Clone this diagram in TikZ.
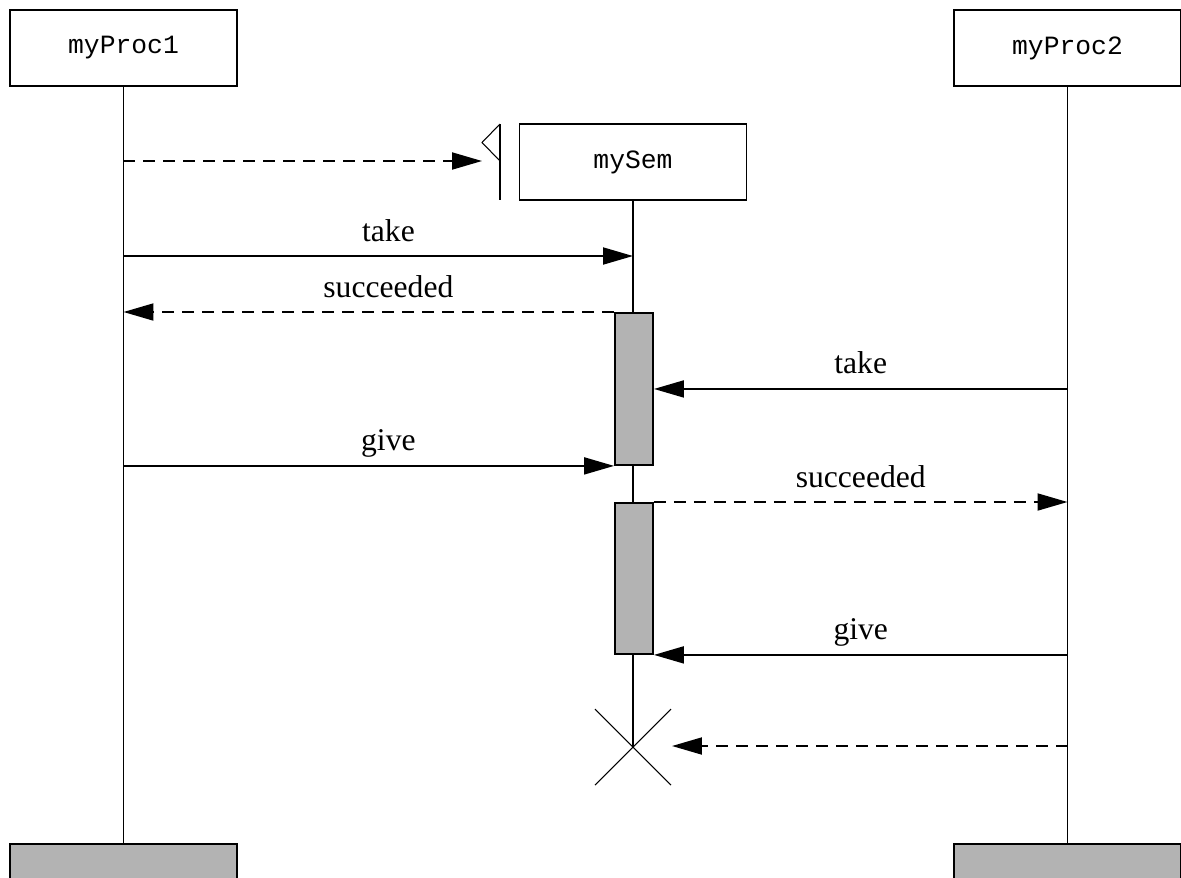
\documentclass[tikz,border=0pt]{standalone}
\usepackage{fontspec}
\setmainfont{Liberation Serif}
\setmonofont{Liberation Mono}
\usetikzlibrary{arrows.meta,positioning,calc}
\definecolor{actgray}{HTML}{B3B3B3}

\begin{document}
\begin{tikzpicture}[x=0.02cm, y=-0.02cm,
  obj/.style={draw, line width=1.1pt, minimum width=4.54cm, minimum height=1.52cm,
              inner sep=0pt, font=\ttfamily\fontsize{15}{17}\selectfont},
  endbox/.style={draw, line width=1.1pt, fill=actgray, minimum width=4.54cm,
                 minimum height=1.52cm},
  act/.style={draw, line width=1.1pt, fill=actgray, minimum width=0.76cm, inner sep=0pt},
  life/.style={line width=1.1pt},
  thin/.style={line width=0.6pt},
  msg/.style={line width=1.1pt, -{Triangle[length=0.6cm, width=0.34cm]}},
  reply/.style={msg, dash pattern=on 0.24cm off 0.16cm},
  lbl/.style={font=\fontsize{18}{20}\selectfont, anchor=base, yshift=0.3cm}
]
  \useasboundingbox (0,0) rectangle (1181,877);

  % instances
  \node[obj] (proc1) at (123.5,48) {myProc1};
  \node[obj] (proc2) at (1067.5,48) {myProc2};
  \node[endbox, anchor=north] (end1) at (123.5,843) {};
  \node[endbox, anchor=north] (end2) at (1067.5,843) {};
  \draw[life] (proc1.south) -- (end1.north);
  \draw[life] (proc2.south) -- (end2.north);

  % created semaphore
  \node[obj] (sem) at (633,162) {mySem};
  \coordinate (destroy) at (633,747);
  \draw[life] (sem.south) -- (destroy);
  \draw[thin] ($(destroy)+(-38,-38)$) -- ($(destroy)+(38,38)$)
              ($(destroy)+(-38,38)$) -- ($(destroy)+(38,-38)$);
  \coordinate (flagtop) at (500,124);
  \coordinate (flag) at (500,161);
  \draw[life] (flagtop) -- (500,200);
  \draw[thin] (flagtop) -- (482,142.5) -- (flag);
  \coordinate (create) at (482,161);

  \node[act, minimum height=3.04cm, anchor=north] (act1) at (634,312) {};
  \node[act, minimum height=3.02cm, anchor=north] (act2) at (634,502) {};

  % messages
  \draw[reply] (create -| proc1) -- (create);
  \coordinate (t1) at (123.5,256);
  \draw[msg] (t1) -- (t1 -| sem) node[lbl, pos=0.52] {take};
  \draw[reply] (act1.north west) -- (act1.north west -| proc1) node[lbl, pos=0.46] {succeeded};
  \draw[msg] (act1.east -| proc2) -- (act1.east) node[lbl, midway] {take};
  \draw[msg] (act1.south west -| proc1) -- (act1.south west) node[lbl, pos=0.54] {give};
  \draw[reply] (act2.north east) -- (act2.north east -| proc2) node[lbl, midway] {succeeded};
  \draw[msg] (act2.south east -| proc2) -- (act2.south east) node[lbl, midway] {give};
  \coordinate (kill) at (672,746);
  \draw[reply] (kill -| proc2) -- (kill);
\end{tikzpicture}
\end{document}
